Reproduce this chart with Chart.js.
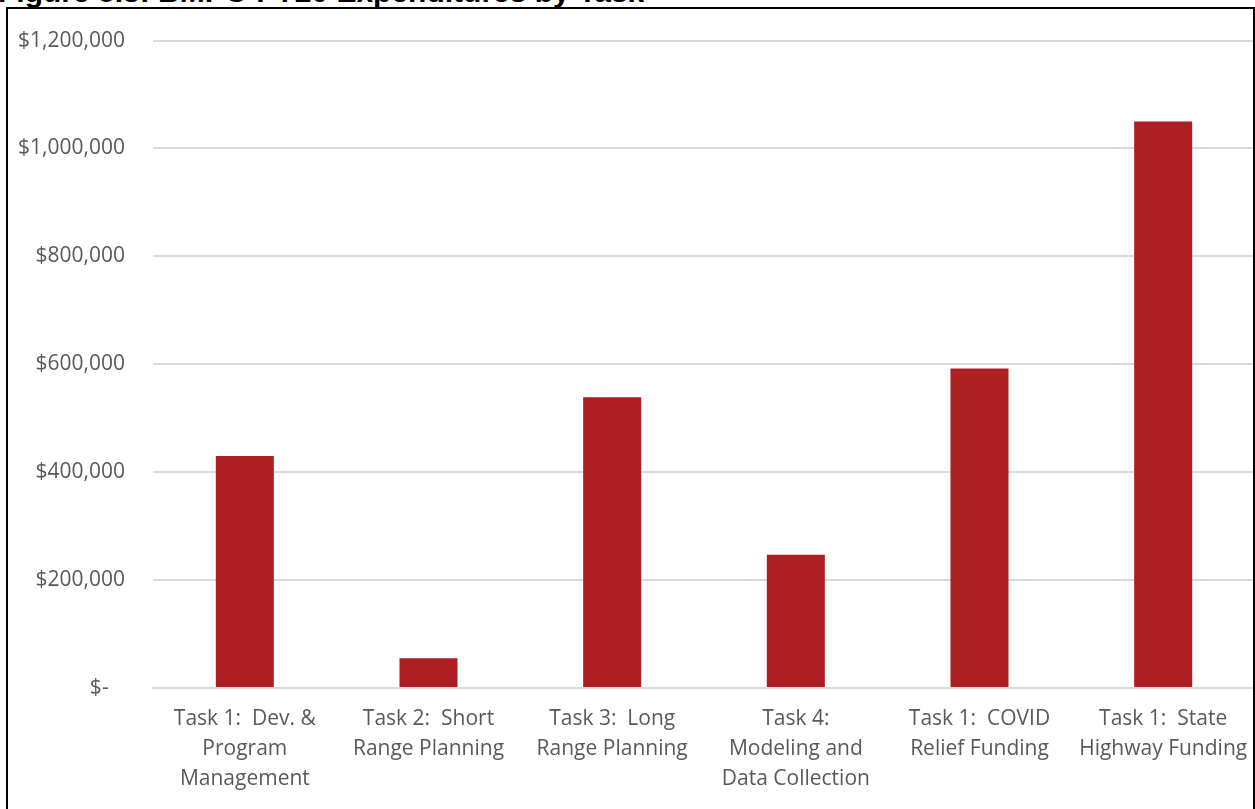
<!DOCTYPE html>
<html>
<head>
<meta charset="utf-8">
<script src="https://cdn.jsdelivr.net/npm/chart.js@4/dist/chart.umd.min.js"></script>
<style>
  html, body { margin: 0; padding: 0; background: #fff; overflow: hidden; }
  #wrap { position: relative; width: 1255px; height: 809px; }
  #title {
    position: absolute; left: -2px; top: -25px;
    font: bold 30px "Liberation Sans", Arial, sans-serif; color: #000;
    white-space: nowrap;
  }
  #frame {
    position: absolute; left: 6px; top: 7px; width: 1245px; height: 830px;
    border: 2px solid #000; pointer-events: none;
  }
  canvas { position: absolute; left: 0; top: 0; }
</style>
</head>
<body>
<div id="wrap">
  <div id="title">Figure 5.3: BMPO FY20 Expenditures by Task</div>
  <canvas id="c" width="1255" height="809"></canvas>
  <div id="frame"></div>
</div>
<script>
// Task categories (each label split into its drawn lines)
const categories = [
  ["Task 1:  Dev. &", "Program", "Management"],
  ["Task 2:  Short", "Range Planning"],
  ["Task 3:  Long", "Range Planning"],
  ["Task 4:", "Modeling and", "Data Collection"],
  ["Task 1:  COVID", "Relief Funding"],
  ["Task 1:  State", "Highway Funding"]
];

// Expenditures per task, in dollars
const expenditures = [430000, 55000, 539000, 247000, 592000, 1050000];

// Value axis ticks
const yTicks = [0, 200000, 400000, 600000, 800000, 1000000, 1200000];

const barColor = "#AE1F24";
const gridColor = "#D9D9D9";
const labelColor = "#595959";
const fontFamily = "'Open Sans', 'DejaVu Sans', sans-serif";

function money(v) {
  if (v === 0) return "$-   ";
  return "$" + v.toLocaleString("en-US");
}

new Chart(document.getElementById("c"), {
  type: "bar",
  data: {
    labels: categories,
    datasets: [{
      data: expenditures,
      backgroundColor: barColor,
      borderWidth: 0,
      barPercentage: 0.632,
      categoryPercentage: 0.5
    }]
  },
  options: {
    responsive: false,
    animation: false,
    layout: { padding: { top: 37, right: 0, left: 0, bottom: 0 } },
    plugins: { legend: { display: false }, tooltip: { enabled: false } },
    scales: {
      x: {
        grid: { display: false, drawTicks: false },
        border: { display: true, color: gridColor, width: 2 },
        ticks: {
          color: labelColor,
          font: { family: fontFamily, size: 21, lineHeight: 1.43 },
          padding: 16,
          maxRotation: 0,
          autoSkip: false
        },
        afterFit: (s) => {
          s.height = 121;
          s.paddingLeft = 0;
          s.paddingRight = 0;
        }
      },
      y: {
        min: 0,
        max: 1200000,
        afterBuildTicks: (s) => { s.ticks = yTicks.map(v => ({ value: v })); },
        grid: { color: gridColor, lineWidth: 2, drawTicks: false },
        border: { display: false },
        ticks: {
          color: labelColor,
          font: { family: fontFamily, size: 21 },
          padding: 28,
          callback: (v) => money(v)
        },
        afterFit: (s) => { s.width = 153; }
      }
    }
  }
});
</script>
</body>
</html>
